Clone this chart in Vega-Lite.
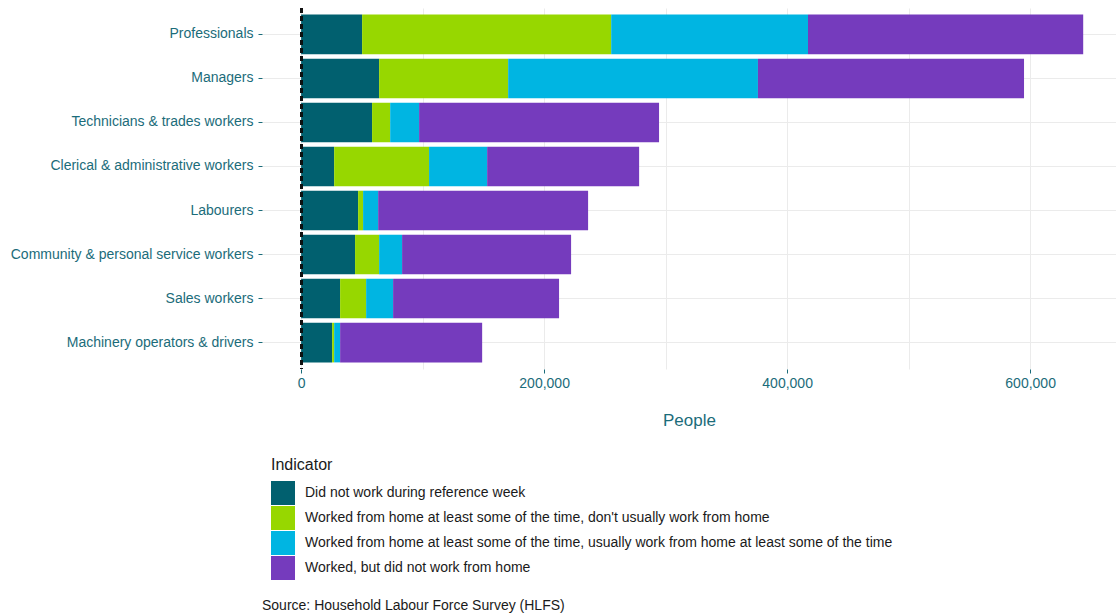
{
  "$schema": "https://vega.github.io/schema/vega-lite/v6.json",
  "autosize": "none",
  "width": 854,
  "height": 361,
  "padding": {"left": 262, "top": 8, "right": 0, "bottom": 246},
  "background": "white",
  "config": {
    "font": "Liberation Sans",
    "view": {"stroke": null},
    "axis": {"domain": false, "gridColor": "#ebebeb", "gridWidth": 1, "labelColor": "#1b6c7a", "titleColor": "#1b6c7a", "tickColor": "#1b6c7a", "labelFont": "Liberation Sans", "titleFont": "Liberation Sans", "titleFontWeight": "normal"}
  },
  "title": {"text": "Source: Household Labour Force Survey (HLFS)", "orient": "bottom", "anchor": "start", "frame": "group", "offset": 19, "fontSize": 14, "fontWeight": "normal", "color": "#1a1a1a", "font": "Liberation Sans"},
  "data": {"values": [
    {"occ": "Professionals", "ind": "Did not work during reference week", "people": 50200},
    {"occ": "Professionals", "ind": "Worked from home at least some of the time, don't usually work from home", "people": 205000},
    {"occ": "Professionals", "ind": "Worked from home at least some of the time, usually work from home at least some of the time", "people": 162000},
    {"occ": "Professionals", "ind": "Worked, but did not work from home", "people": 226500},
    {"occ": "Managers", "ind": "Did not work during reference week", "people": 64200},
    {"occ": "Managers", "ind": "Worked from home at least some of the time, don't usually work from home", "people": 106200},
    {"occ": "Managers", "ind": "Worked from home at least some of the time, usually work from home at least some of the time", "people": 205600},
    {"occ": "Managers", "ind": "Worked, but did not work from home", "people": 219000},
    {"occ": "Technicians & trades workers", "ind": "Did not work during reference week", "people": 58400},
    {"occ": "Technicians & trades workers", "ind": "Worked from home at least some of the time, don't usually work from home", "people": 14900},
    {"occ": "Technicians & trades workers", "ind": "Worked from home at least some of the time, usually work from home at least some of the time", "people": 23800},
    {"occ": "Technicians & trades workers", "ind": "Worked, but did not work from home", "people": 197500},
    {"occ": "Clerical & administrative workers", "ind": "Did not work during reference week", "people": 27200},
    {"occ": "Clerical & administrative workers", "ind": "Worked from home at least some of the time, don't usually work from home", "people": 78100},
    {"occ": "Clerical & administrative workers", "ind": "Worked from home at least some of the time, usually work from home at least some of the time", "people": 47800},
    {"occ": "Clerical & administrative workers", "ind": "Worked, but did not work from home", "people": 125100},
    {"occ": "Labourers", "ind": "Did not work during reference week", "people": 46900},
    {"occ": "Labourers", "ind": "Worked from home at least some of the time, don't usually work from home", "people": 4100},
    {"occ": "Labourers", "ind": "Worked from home at least some of the time, usually work from home at least some of the time", "people": 12400},
    {"occ": "Labourers", "ind": "Worked, but did not work from home", "people": 172800},
    {"occ": "Community & personal service workers", "ind": "Did not work during reference week", "people": 44400},
    {"occ": "Community & personal service workers", "ind": "Worked from home at least some of the time, don't usually work from home", "people": 19800},
    {"occ": "Community & personal service workers", "ind": "Worked from home at least some of the time, usually work from home at least some of the time", "people": 18900},
    {"occ": "Community & personal service workers", "ind": "Worked, but did not work from home", "people": 139100},
    {"occ": "Sales workers", "ind": "Did not work during reference week", "people": 32100},
    {"occ": "Sales workers", "ind": "Worked from home at least some of the time, don't usually work from home", "people": 21400},
    {"occ": "Sales workers", "ind": "Worked from home at least some of the time, usually work from home at least some of the time", "people": 22200},
    {"occ": "Sales workers", "ind": "Worked, but did not work from home", "people": 136600},
    {"occ": "Machinery operators & drivers", "ind": "Did not work during reference week", "people": 25500},
    {"occ": "Machinery operators & drivers", "ind": "Worked from home at least some of the time, don't usually work from home", "people": 1700},
    {"occ": "Machinery operators & drivers", "ind": "Worked from home at least some of the time, usually work from home at least some of the time", "people": 4900},
    {"occ": "Machinery operators & drivers", "ind": "Worked, but did not work from home", "people": 116900}
  ]},
  "layer": [
    {
      "mark": {"type": "bar"},
      "encoding": {
        "y": {"field": "occ", "type": "nominal",
          "sort": ["Professionals", "Managers", "Technicians & trades workers", "Clerical & administrative workers", "Labourers", "Community & personal service workers", "Sales workers", "Machinery operators & drivers"],
          "scale": {"paddingInner": 0.1, "paddingOuter": 0.15},
          "axis": {"title": null, "labelFontSize": 14, "labelLimit": 400, "tickSize": 4, "labelPadding": 5, "grid": true, "gridColor": "#ebebeb"}
        },
        "x": {"field": "people", "type": "quantitative", "aggregate": "sum", "stack": "zero",
          "scale": {"domain": [-32200, 670700], "nice": false, "zero": false},
          "axis": {"title": "People", "titleFontSize": 17, "titlePadding": 22, "labelFontSize": 14, "values": [0, 100000, 200000, 300000, 400000, 500000, 600000],
            "labelExpr": "datum.value % 200000 === 0 ? format(datum.value, ',') : ''",
            "tickColor": {"condition": {"test": "datum.value % 200000 !== 0", "value": "transparent"}, "value": "#1b6c7a"},
            "tickSize": 4, "labelPadding": 3, "grid": true}
        },
        "color": {"field": "ind", "type": "nominal",
          "scale": {"domain": ["Did not work during reference week", "Worked from home at least some of the time, don't usually work from home", "Worked from home at least some of the time, usually work from home at least some of the time", "Worked, but did not work from home"],
            "range": ["#01606f", "#97d700", "#00b5e2", "#753bbd"]},
          "legend": {"title": "Indicator", "orient": "none", "legendX": 9, "legendY": 449, "direction": "vertical",
            "symbolType": "square", "symbolSize": 576, "symbolStrokeWidth": 0, "symbolOpacity": 1, "rowPadding": 1,
            "labelFontSize": 14, "labelColor": "#1a1a1a", "labelOffset": 10, "labelLimit": 800,
            "titleFontSize": 16, "titleColor": "#1a1a1a", "titleFontWeight": "normal", "titlePadding": 8}
        }
      }
    },
    {
      "mark": {"type": "rule", "color": "#111111", "strokeDash": [5, 3], "strokeWidth": 2},
      "encoding": {"x": {"datum": 0}}
    }
  ]
}
